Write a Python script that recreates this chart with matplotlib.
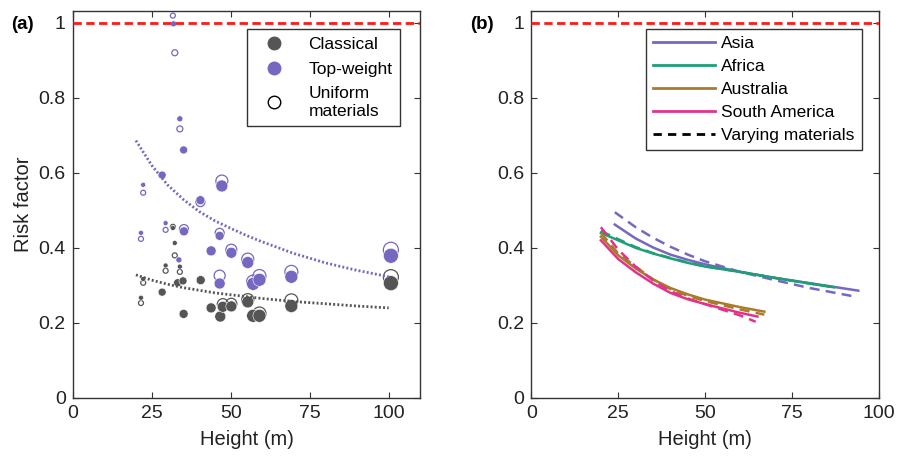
import matplotlib
matplotlib.use("Agg")
import matplotlib.pyplot as plt
from matplotlib.lines import Line2D
import numpy as np

plt.rcParams['font.family'] = ['Liberation Sans', 'DejaVu Sans']

# ---- panel (a) data: height (m), risk factor, marker diameter (px) ----
classical_x = [21.6, 22.3, 28.3, 29.4, 31.7, 32.3, 33.9, 33.2, 34.9, 35.1, 40.5,
               43.8, 46.7, 47.5, 50.2, 55.4, 57.1, 59.1, 69.2, 100.7]
classical_y = [0.267, 0.317, 0.282, 0.353, 0.453, 0.413, 0.350, 0.307, 0.312, 0.224, 0.314,
               0.240, 0.217, 0.243, 0.244, 0.256, 0.219, 0.219, 0.245, 0.306]
classical_d = [5, 5, 8, 5, 5, 5, 5, 8, 8, 9, 9, 10, 11, 11, 11, 12, 13, 13, 13, 15]

topw_x = [21.6, 22.3, 28.3, 29.4, 31.9, 33.9, 33.6, 35.1, 35.2, 40.4, 43.8,
          46.5, 46.5, 47.2, 50.2, 55.4, 57.1, 59.1, 69.2, 100.7]
topw_y = [0.440, 0.568, 0.594, 0.466, 0.997, 0.744, 0.368, 0.661, 0.444, 0.527, 0.392,
          0.432, 0.305, 0.565, 0.387, 0.361, 0.304, 0.315, 0.323, 0.379]
topw_d = [5, 5, 8, 5, 6, 6, 6, 8, 9, 9, 10, 9, 11, 12, 11, 12, 13, 13, 13, 15]

unif_c_x = [21.6, 22.3, 29.4, 31.7, 32.3, 33.9, 47.5, 50.2, 55.4, 59.1, 69.2, 100.7]
unif_c_y = [0.253, 0.307, 0.339, 0.456, 0.380, 0.336, 0.250, 0.251, 0.262, 0.225, 0.260, 0.322]
unif_c_d = [5, 5, 5, 5, 5, 5, 11, 11, 12, 13, 13, 15]

unif_t_x = [21.6, 22.3, 29.4, 31.7, 32.3, 33.9, 35.2, 40.4, 46.5, 46.5, 47.2,
            50.2, 55.4, 57.1, 59.1, 69.2, 100.7]
unif_t_y = [0.424, 0.547, 0.448, 1.019, 0.920, 0.717, 0.450, 0.522, 0.440, 0.326, 0.578,
            0.395, 0.370, 0.310, 0.325, 0.336, 0.395]
unif_t_d = [5, 5, 5, 5, 6, 6, 9, 9, 9, 11, 12, 11, 12, 13, 13, 13, 15]

# dotted trend curves
trend_x = [20, 25, 30, 35, 40, 45, 50, 55, 60, 70, 80, 90, 100]
trend_topw = [0.686, 0.620, 0.568, 0.529, 0.497, 0.472, 0.452, 0.433, 0.416, 0.385, 0.360, 0.340, 0.323]
trend_classical = [0.328, 0.314, 0.303, 0.294, 0.287, 0.280, 0.275, 0.270, 0.265, 0.257, 0.251, 0.245, 0.240]

# ---- panel (b) data ----
asia_x = [24, 30, 35, 40, 45, 50, 60, 70, 80, 94]
asia_y = [0.462, 0.425, 0.401, 0.382, 0.368, 0.356, 0.336, 0.320, 0.306, 0.286]
asia_var_x = [24, 30, 35, 40, 45, 50, 60, 70, 80, 92]
asia_var_y = [0.495, 0.455, 0.427, 0.403, 0.382, 0.364, 0.336, 0.314, 0.293, 0.272]

africa_x = [20, 25, 30, 35, 40, 45, 50, 60, 70, 80, 87]
africa_y = [0.440, 0.420, 0.400, 0.385, 0.372, 0.360, 0.350, 0.336, 0.320, 0.305, 0.295]
africa_var_y = [0.445, 0.423, 0.402, 0.386, 0.373, 0.361, 0.351, 0.336, 0.320, 0.305, 0.295]

austr_x = [20, 25, 30, 35, 40, 45, 50, 60, 67]
austr_y = [0.430, 0.380, 0.345, 0.316, 0.293, 0.276, 0.262, 0.242, 0.230]
austr_var_y = [0.440, 0.385, 0.350, 0.316, 0.290, 0.272, 0.258, 0.236, 0.222]

sam_x = [20, 25, 30, 35, 40, 45, 50, 60, 65]
sam_y = [0.420, 0.370, 0.335, 0.305, 0.280, 0.263, 0.250, 0.227, 0.217]
sam_var_x = [20, 25, 30, 35, 40, 45, 50, 60, 64.5]
sam_var_y = [0.455, 0.395, 0.350, 0.313, 0.285, 0.265, 0.250, 0.220, 0.203]

GRAY = '#555555'
PURPLE = '#7468c0'
GREEN = '#1f9e78'
BROWN = '#a97c2c'
PINK = '#e2338b'
SPINE = '#333333'


def sz(d):
    return (np.array(d) * 0.72) ** 2


fig = plt.figure(figsize=(8.98, 4.59), dpi=100)
ax1 = fig.add_axes([0.081, 0.133, 0.387, 0.842])
ax2 = fig.add_axes([0.5917, 0.133, 0.3873, 0.842])

# (a)
ax1.scatter(unif_c_x, unif_c_y, s=sz(unif_c_d), facecolors='none', edgecolors=GRAY, linewidths=0.9, zorder=2)
ax1.scatter(unif_t_x, unif_t_y, s=sz(unif_t_d), facecolors='none', edgecolors=PURPLE, linewidths=0.9, zorder=2)
ax1.scatter(classical_x, classical_y, s=sz(classical_d), color=GRAY, edgecolors='white', linewidths=0.4, zorder=3)
ax1.scatter(topw_x, topw_y, s=sz(topw_d), color=PURPLE, edgecolors='white', linewidths=0.4, zorder=3)
ax1.plot(trend_x, trend_topw, color=PURPLE, lw=2, linestyle=(0, (0.7, 0.8)), zorder=4)
ax1.plot(trend_x, trend_classical, color=GRAY, lw=2, linestyle=(0, (0.7, 0.8)), zorder=4)
ax1.set_xlim(0, 110)

handles_a = [
    Line2D([], [], marker='o', ls='none', color=GRAY, markersize=9),
    Line2D([], [], marker='o', ls='none', color=PURPLE, markersize=9),
    Line2D([], [], marker='o', ls='none', markerfacecolor='none', markeredgecolor='black', markersize=9),
]
leg_a = ax1.legend(handles_a, ['Classical', 'Top-weight', 'Uniform\nmaterials'],
                   loc='upper right', bbox_to_anchor=(0.967, 0.977), fontsize=12.5,
                   frameon=True, fancybox=False, framealpha=1, edgecolor=SPINE,
                   handlelength=2.2, handletextpad=0.9, borderpad=0.45, labelspacing=0.55)
leg_a.get_frame().set_linewidth(1.0)

# (b)
dash = (0, (4, 2.5))
ax2.plot(asia_x, asia_y, color=PURPLE, lw=1.8)
ax2.plot(asia_var_x, asia_var_y, color=PURPLE, lw=1.8, linestyle=dash)
ax2.plot(africa_x, africa_y, color=GREEN, lw=1.8)
ax2.plot(africa_x, africa_var_y, color=GREEN, lw=1.8, linestyle=dash)
ax2.plot(austr_x, austr_y, color=BROWN, lw=1.8)
ax2.plot(austr_x, austr_var_y, color=BROWN, lw=1.8, linestyle=dash)
ax2.plot(sam_x, sam_y, color=PINK, lw=1.8)
ax2.plot(sam_var_x, sam_var_y, color=PINK, lw=1.8, linestyle=dash)
ax2.set_xlim(0, 100)

handles_b = [
    Line2D([], [], color=PURPLE, lw=2),
    Line2D([], [], color=GREEN, lw=2),
    Line2D([], [], color=BROWN, lw=2),
    Line2D([], [], color=PINK, lw=2),
    Line2D([], [], color='black', lw=2, linestyle=(0, (3, 2.2))),
]
leg_b = ax2.legend(handles_b, ['Asia', 'Africa', 'Australia', 'South America', 'Varying materials'],
                   loc='upper right', bbox_to_anchor=(0.975, 0.977), fontsize=12.5,
                   frameon=True, fancybox=False, framealpha=1, edgecolor=SPINE,
                   handlelength=3.6, handletextpad=0.35, borderpad=0.4, labelspacing=0.45)
leg_b.get_frame().set_linewidth(1.0)

for ax in (ax1, ax2):
    ax.axhline(1.0, color='#ff1a1a', lw=2, linestyle=(0, (3, 1.6)), zorder=5)
    ax.set_ylim(0, 1.03)
    ax.set_yticks([0, 0.2, 0.4, 0.6, 0.8, 1.0])
    ax.set_yticklabels(['0', '0.2', '0.4', '0.6', '0.8', '1'])
    ax.set_xticks([0, 25, 50, 75, 100])
    ax.tick_params(direction='in', top=True, right=True, length=4, width=0.8,
                   color=SPINE, labelsize=14, labelcolor='#222222', pad=5)
    for s in ax.spines.values():
        s.set_color(SPINE)
        s.set_linewidth(1.0)
    ax.set_xlabel('Height (m)', fontsize=14.5, color='#222222', labelpad=6)

ax1.set_ylabel('Risk factor', fontsize=14.5, color='#222222', labelpad=4)

fig.text(0.012, 0.937, '(a)', fontsize=13.5, fontweight='bold')
fig.text(0.523, 0.937, '(b)', fontsize=13.5, fontweight='bold')

fig.savefig('out.png', dpi=100)
